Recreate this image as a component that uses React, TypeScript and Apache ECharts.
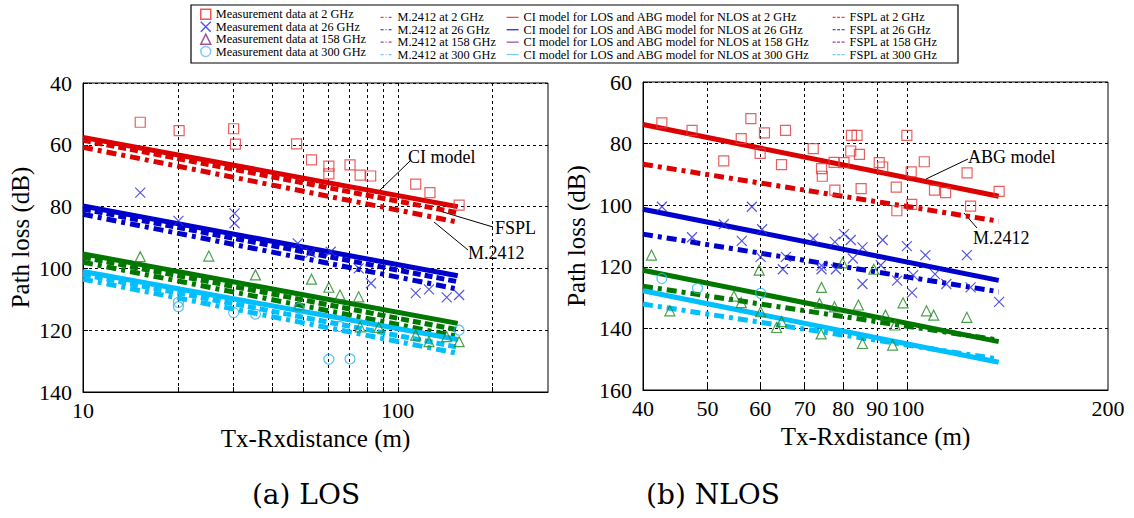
import { useEffect, useRef } from 'react';
import * as echarts from 'echarts';

// Frequency bands shared by both panels
const bands = ['2 GHz', '26 GHz', '158 GHz', '300 GHz'];

// LOS measurements: [Tx-Rx distance (m), path loss (dB)]
const losMeas2: [number, number][] = [
  [15.2, 52.7], [20.2, 55.4], [30.1, 54.8], [30.5, 59.8], [47.7, 59.7], [53.2, 64.9],
  [60.4, 66.9], [60.4, 69.4], [70.5, 66.5], [75.9, 69.8], [82, 70.1], [114, 72.7],
  [126.5, 75.5], [156.6, 79.5],
];
const losMeas26: [number, number][] = [
  [15.2, 75.5], [20.1, 84.6], [30.3, 82.2], [30.3, 85.4], [48.1, 91.9], [52.8, 94.9],
  [61.2, 94.6], [75.1, 100], [82.2, 104.8], [114, 108], [125.6, 106.8], [143, 109.4],
  [156.6, 108.6],
];
const losMeas158: [number, number][] = [
  [15.2, 96.2], [25.1, 96], [35.3, 102.1], [48.5, 111.8], [53.2, 103.5], [60.4, 106.1],
  [65.5, 108.6], [75.1, 109.2], [75.9, 118.9], [87, 119.1], [114, 121.6], [125.6, 123.7],
  [143, 122.1], [156.6, 123.7],
];
const losMeas300: [number, number][] = [
  [20.1, 111], [20.1, 112.4], [30.1, 114.3], [35.3, 114.8], [48.5, 112.9], [60.4, 129.4],
  [65.3, 118.8], [70.5, 129.3], [156.6, 120],
];

// NLOS measurements: [Tx-Rx distance (m), path loss (dB)]
const nlosMeas2: [number, number][] = [
  [42.7, 73.3], [47.4, 75.7], [52.9, 85.6], [56.2, 78.4], [58.1, 71.9], [60.0, 83.2],
  [60.9, 76.5], [64.6, 86.8], [65.5, 75.7], [72.1, 81.6], [74.2, 88.1], [74.4, 90.6],
  [77.5, 86.1], [77.7, 95.1], [80.2, 86.2], [82.1, 82.4], [82.3, 77.3], [83.9, 77.3],
  [84.6, 83.5], [85.1, 94.6], [90.6, 86.2], [91.7, 87.6], [96.1, 94.1], [96.3, 101.8],
  [99.7, 77.3], [101.2, 89.2], [101.4, 99.7], [105.9, 85.9], [109.7, 95.1], [114, 95.9],
  [122.8, 89.5], [124.3, 100.3], [137.2, 95.5],
];
const nlosMeas26: [number, number][] = [
  [42.7, 100.5], [47.4, 110.4], [52.9, 106.2], [56.3, 111.6], [58.3, 100.5], [60.4, 107.8],
  [60.1, 116.8], [64.9, 120.8], [65.6, 116.8], [72.1, 110.8], [74.2, 120.8], [74.2, 119.6],
  [77.7, 111.9], [78.0, 120.8], [80.2, 109.4], [82.1, 111.3], [82.7, 117.3], [85.5, 113.7],
  [85.5, 125.6], [91.7, 111.3], [91.1, 119.5], [96.4, 124.5], [99.7, 113.3], [101.9, 122.7],
  [101.5, 128.4], [106.3, 116.2], [109.9, 122.4], [114.3, 125.6], [122.7, 116.2],
  [124.3, 126.7], [137.2, 131.4],
];
const nlosMeas158: [number, number][] = [
  [41.2, 116.2], [43.9, 134.3], [54.8, 129.5], [56.2, 131.6], [59.8, 121.1], [60.1, 134.6],
  [63.5, 139.7], [64.6, 137.8], [73.7, 131.9], [74.2, 126.7], [74.1, 141.8], [77.6, 133],
  [79.8, 118.7], [84.3, 132.4], [85.5, 144.9], [88.9, 120.8], [92.6, 135.7], [94.9, 145.4],
  [95.7, 138.9], [98.4, 131.7], [106.7, 134.3], [109.4, 135.7], [122.7, 136.4],
];
const nlosMeas300: [number, number][] = [[42.7, 123.8], [48.3, 127], [60.1, 128.6]];

const losMeas = [losMeas2, losMeas26, losMeas158, losMeas300];
const nlosMeas = [nlosMeas2, nlosMeas26, nlosMeas158, nlosMeas300];

// Model lines: path loss (dB) at the first and last distance of each span
const losDistSpan = [10, 155];
const losCI = [[57.6, 80.0], [79.8, 102.4], [95.3, 117.8], [101.0, 123.0]];
const losFSPL = [[58.5, 82.0], [80.8, 104.3], [96.4, 119.9], [102.0, 125.5]];
const losM2412 = [[60.8, 85.0], [82.5, 106.7], [98.0, 122.0], [103.5, 127.5]];

const nlosDistSpan = [40, 137];
const nlosABG = [[73.8, 97.1], [101.3, 124.4], [121.1, 144.3], [127.8, 151.0]];
const nlosM2412 = [[86.7, 105.2], [109.4, 128.1], [126.3, 143.8], [132.1, 150.0]];

// Axis ticks
const losXLabels = [10, 100];
const losXGrid = [20, 30, 40, 50, 60, 70, 80, 90, 100, 200];
const nlosXLabels = [40, 50, 60, 70, 80, 90, 100, 200];
const nlosXGrid = [50, 60, 70, 80, 90, 100];

const SERIF = '"Liberation Serif", "Times New Roman", serif';

const lineColors = ['#dc0000', '#0000cc', '#007800', '#00bfff'];
const markerColors = ['#e23a3a', '#2c2ce0', '#1f8a1f', '#26b6ee'];
const legendMarkerColors = ['#ee2a2a', '#2a2aee', '#8a2a8a', '#66bbee'];
const legendLineColors = ['#ff3a3a', '#1a1add', '#994499', '#77c8f5'];
const markerSymbols = ['rect', 'path://M0,0L10,10M10,0L0,10', 'triangle', 'circle'];

const DASHED = [8, 4];
const DASH_DOT = [10, 5, 4, 5];

const measName = (b: string) => `Measurement data at ${b}`;
const m2412Name = (b: string) => `M.2412 at ${b}`;
const ciName = (b: string) => `CI model for LOS and ABG model for NLOS at ${b}`;
const fsplName = (b: string) => `FSPL at ${b}`;

// Legend layout: left edge of each column's icon and the centre line of each row
const LEGEND_FONT = 12.3;
const legendColLeft = [200, 380, 506, 832];
const legendRowsMarkers = [14.5, 26.9, 39.3, 51.7];
const legendRowsLines = [17.5, 29.9, 42.3, 54.7];

function modelLine(name: string, g: number, span: number[], vals: number[], color: string, type: any) {
  return {
    type: 'line',
    name,
    xAxisIndex: g,
    yAxisIndex: g,
    data: [[span[0], vals[0]], [span[1], vals[1]]],
    symbol: 'none',
    silent: true,
    z: 2,
    itemStyle: { color },
    lineStyle: { color, width: 5, type, cap: 'butt' },
  };
}

function measScatter(name: string, g: number, data: [number, number][], i: number) {
  return {
    type: 'scatter',
    name,
    xAxisIndex: g,
    yAxisIndex: g,
    data,
    symbol: markerSymbols[i],
    symbolSize: 10,
    silent: true,
    z: 3,
    itemStyle: { color: 'rgba(0,0,0,0)', borderColor: markerColors[i], borderWidth: 1.2 },
  };
}

function xAxisDef(g: number, min: number, max: number, labels: number[], grid: number[], gap: number) {
  return {
    type: 'log',
    logBase: 10,
    gridIndex: g,
    min,
    max,
    name: 'Tx-Rxdistance (m)',
    nameLocation: 'middle',
    nameGap: gap,
    nameTextStyle: { fontSize: 25, fontFamily: SERIF, color: '#000' },
    axisLine: { show: true, lineStyle: { color: '#000', width: 1 } },
    axisTick: { show: true, inside: true, length: 5, customValues: grid, lineStyle: { color: '#000' } },
    axisLabel: { customValues: labels, fontSize: 22, fontFamily: SERIF, color: '#000', margin: 7 },
    splitLine: { show: true, lineStyle: { color: '#000', type: [3, 3], width: 1 } },
  };
}

function yAxisDef(g: number, min: number, max: number, gap: number) {
  return {
    type: 'value',
    gridIndex: g,
    inverse: true,
    min,
    max,
    interval: 20,
    name: 'Path loss (dB)',
    nameLocation: 'middle',
    nameGap: gap,
    nameRotate: 90,
    nameTextStyle: { fontSize: 25, fontFamily: SERIF, color: '#000' },
    axisLine: { show: true, lineStyle: { color: '#000', width: 1 } },
    axisTick: { show: true, inside: true, length: 5, lineStyle: { color: '#000' } },
    axisLabel: { fontSize: 22, fontFamily: SERIF, color: '#000', margin: 11 },
    splitLine: { show: true, lineStyle: { color: '#000', type: [3, 3], width: 1 } },
  };
}

// One legend component per entry so every row sits exactly where it should
function legendEntry(left: number, rowCenter: number, itemWidth: number, item: any) {
  return {
    orient: 'vertical',
    left,
    top: rowCenter - LEGEND_FONT / 2,
    padding: 0,
    itemGap: 0,
    itemWidth,
    itemHeight: 10,
    selectedMode: false,
    textStyle: { fontSize: LEGEND_FONT, fontFamily: SERIF, color: '#000' },
    data: [item],
  };
}

// Legend entry for a model line: only the line sample, no marker on it
function lineLegendItem(name: string, color: string, type: any) {
  return {
    name,
    itemStyle: { opacity: 0 },
    lineStyle: { color, width: 1.2, type, opacity: 1 },
  };
}

function annotation(text: string, x: number, y: number) {
  return {
    type: 'text',
    x,
    y,
    silent: true,
    style: {
      text,
      font: `18px ${SERIF}`,
      fill: '#000',
      textAlign: 'left',
      textVerticalAlign: 'middle',
      align: 'left',
      verticalAlign: 'middle',
    },
  };
}

function leader(x1: number, y1: number, x2: number, y2: number) {
  return { type: 'line', silent: true, shape: { x1, y1, x2, y2 }, style: { stroke: '#000', lineWidth: 1 } };
}

function caption(text: string, x: number, y: number) {
  return {
    type: 'text',
    x,
    y,
    silent: true,
    style: {
      text,
      font: `28px "DejaVu Serif", serif`,
      fill: '#000',
      textAlign: 'center',
      textVerticalAlign: 'middle',
      align: 'center',
      verticalAlign: 'middle',
    },
  };
}

export default function App() {
  const ref = useRef<HTMLDivElement>(null);

  useEffect(() => {
    if (!ref.current) return;
    const chart = echarts.init(ref.current, undefined, { renderer: 'svg' });

    const series: any[] = [];
    bands.forEach((b, i) => {
      const c = lineColors[i];
      series.push(modelLine(ciName(b), 0, losDistSpan, losCI[i], c, 'solid'));
      series.push(modelLine(fsplName(b), 0, losDistSpan, losFSPL[i], c, DASHED));
      series.push(modelLine(m2412Name(b), 0, losDistSpan, losM2412[i], c, DASH_DOT));
      series.push(modelLine(ciName(b), 1, nlosDistSpan, nlosABG[i], c, 'solid'));
      series.push(modelLine(m2412Name(b), 1, nlosDistSpan, nlosM2412[i], c, DASH_DOT));
    });
    bands.forEach((b, i) => {
      series.push(measScatter(measName(b), 0, losMeas[i], i));
      series.push(measScatter(measName(b), 1, nlosMeas[i], i));
    });

    const legends: any[] = [];
    bands.forEach((b, i) => {
      legends.push(legendEntry(legendColLeft[0], legendRowsMarkers[i], 10, {
        name: measName(b),
        itemStyle: { color: 'rgba(0,0,0,0)', borderColor: legendMarkerColors[i], borderWidth: 1.5 },
      }));
      legends.push(legendEntry(legendColLeft[1], legendRowsLines[i], 12,
        lineLegendItem(m2412Name(b), legendLineColors[i], [3, 2, 1, 2])));
      legends.push(legendEntry(legendColLeft[2], legendRowsLines[i], 12,
        lineLegendItem(ciName(b), legendLineColors[i], 'solid')));
      legends.push(legendEntry(legendColLeft[3], legendRowsLines[i], 12,
        lineLegendItem(fsplName(b), legendLineColors[i], [3, 1.5])));
    });

    const option: any = {
      animation: false,
      backgroundColor: '#fff',
      textStyle: { fontFamily: SERIF },
      grid: [
        { left: 83, top: 83, width: 465, height: 309, show: true, borderColor: '#000', borderWidth: 1, backgroundColor: 'transparent' },
        { left: 643, top: 82, width: 465, height: 308, show: true, borderColor: '#000', borderWidth: 1, backgroundColor: 'transparent' },
      ],
      xAxis: [
        xAxisDef(0, 10, 300, losXLabels, losXGrid, 20),
        xAxisDef(1, 40, 200, nlosXLabels, nlosXGrid, 22),
      ],
      yAxis: [yAxisDef(0, 40, 140, 50), yAxisDef(1, 60, 160, 54)],
      legend: legends,
      graphic: [
        { type: 'rect', z: -1, silent: true, shape: { x: 191, y: 5, width: 767, height: 58 }, style: { fill: 'none', stroke: '#000', lineWidth: 1.2 } },
        annotation('CI model', 408, 157),
        leader(410, 161, 380, 190),
        annotation('FSPL', 495, 228),
        leader(493, 227, 443, 212),
        annotation('M.2412', 468, 253),
        leader(468, 250, 434, 222),
        annotation('ABG model', 968, 157),
        leader(968, 159, 926, 179),
        annotation('M.2412', 973, 238),
        leader(977, 228, 964, 213),
        caption('(a) LOS', 306, 494),
        caption('(b) NLOS', 713, 494),
      ],
      series,
    };

    chart.setOption(option);
    return () => chart.dispose();
  }, []);

  return <div ref={ref} style={{ position: 'absolute', left: 0, top: 0, width: 1134, height: 518 }} />;
}
